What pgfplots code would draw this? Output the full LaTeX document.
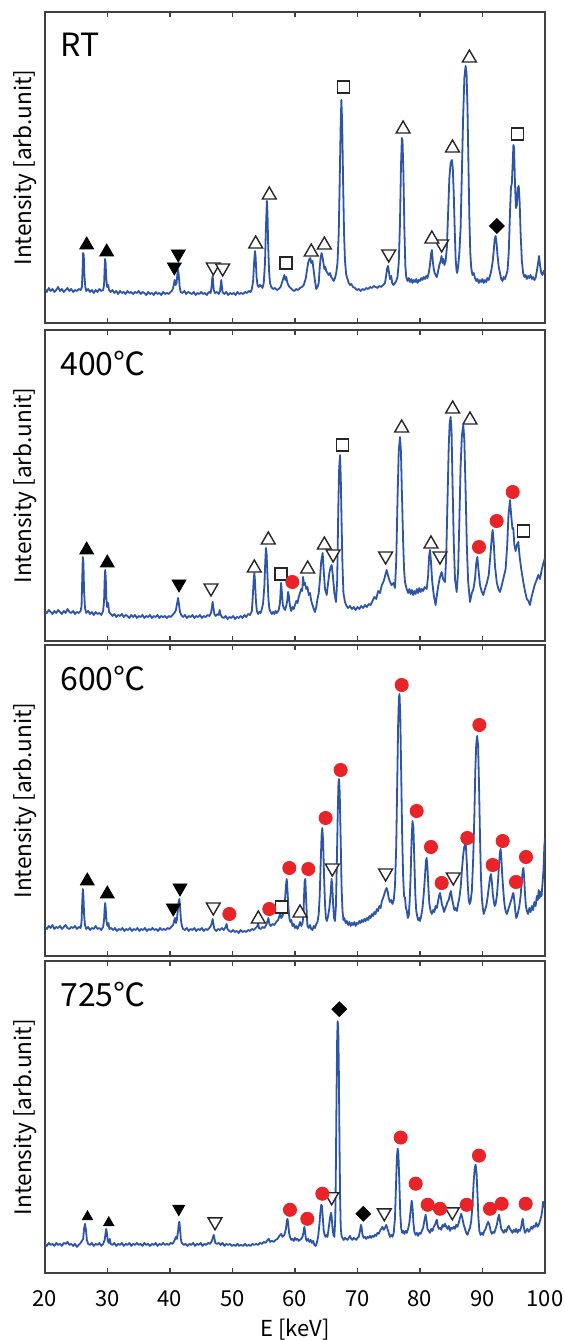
\documentclass[border=0pt]{standalone}
\usepackage{fontspec}
\setmainfont{Noto Sans CJK JP}
\usepackage{pgfplots}
\pgfplotsset{compat=1.18}

\definecolor{specblue}{RGB}{44,84,168}
\definecolor{dotred}{RGB}{232,36,40}

% one panel = 500 x 311 px of the reference, 1 px = 0.5bp
\pgfplotsset{
  panel/.style={
    scale only axis, width=250bp, height=155.5bp,
    xmin=20, xmax=100, ymin=0, ymax=311,
    xtick={20,30,...,100}, ytick=\empty,
    xticklabels={},
    tick align=inside, major tick length=2.5bp, xtick pos=both,
    axis line style={black!75, line width=0.9bp},
    every tick/.style={black!75, line width=0.6bp},
    ylabel={Intensity [arb.unit]},
    ylabel style={at={(axis description cs:-0.04,0.5)}, anchor=center,
                  font=\fontsize{11.3bp}{13bp}\selectfont},
  },
  spec/.style={specblue, line width=0.9bp, mark=none, line join=round},
  fup/.style={only marks, mark=triangle*, mark size=#1,
              mark options={fill=black, draw=black}},
  fup/.default=4bp,
  fdn/.style={only marks, mark=triangle*, mark size=#1,
              mark options={fill=black, draw=black, rotate=180}},
  fdn/.default=4bp,
  oup/.style={only marks, mark=triangle*, mark size=4bp,
              mark options={fill=white, draw=black!85, line width=0.7bp}},
  odn/.style={only marks, mark=triangle*, mark size=4bp,
              mark options={fill=white, draw=black!85, line width=0.7bp, rotate=180}},
  osq/.style={only marks, mark=square*, mark size=3bp,
              mark options={fill=white, draw=black!85, line width=0.7bp}},
  fdi/.style={only marks, mark=square*, mark size=2.6bp,
              mark options={fill=black, draw=black, rotate=45}},
  rdot/.style={only marks, mark=*, mark size=3.3bp,
               mark options={fill=dotred, draw=dotred}},
}
\tikzset{paneltitle/.style={anchor=north west, inner sep=0pt,
                font=\fontsize{16bp}{18bp}\selectfont}}

\begin{document}
\begin{tikzpicture}
\useasboundingbox (0,0) rectangle (282.5bp,670bp);

% ---------------- RT ----------------
\begin{axis}[panel, at={(22.5bp,508.5bp)}, anchor=south west]
\addplot[spec] coordinates {
(20.0,34)(20.3,31)(20.6,35)(20.9,32)(21.2,34)(21.5,31)(21.8,33)(22.1,36)(22.4,32)(22.7,34)
(23.0,31)(23.3,33)(23.6,35)(23.9,32)(24.2,34)(24.5,31)(24.8,33)(25.1,32)(25.4,34)(25.7,33)
(25.9,36)(26.0,50)(26.1,70)(26.2,68)(26.3,48)(26.45,36)(26.6,32)
(26.9,34)(27.2,31)(27.5,33)(27.8,30)(28.1,33)(28.4,31)(28.7,34)(29.0,32)(29.3,33)
(29.45,38)(29.55,56)(29.62,64)(29.7,60)(29.8,44)(29.95,36)(30.1,38)(30.25,33)
(30.5,31)(30.8,33)(31.1,30)(31.4,32)(31.7,29)(32.0,32)(32.3,30)(32.6,31)(32.9,29)(33.2,32)
(33.5,30)(33.8,31)(34.1,29)(34.4,31)(34.7,30)(35.0,32)(35.3,29)(35.6,31)(35.9,30)(36.2,28)
(36.5,31)(36.8,29)(37.1,30)(37.4,28)(37.7,31)(38.0,29)(38.3,30)(38.6,28)(38.9,31)(39.2,29)
(39.5,30)(39.8,29)(40.1,31)(40.4,33)
(40.6,38)(40.75,43)(40.9,38)(41.05,40)(41.2,50)(41.3,53)(41.4,48)(41.55,36)(41.7,31)
(42.0,30)(42.3,32)(42.6,29)(42.9,31)(43.2,30)(43.5,29)(43.8,31)(44.1,28)(44.4,30)(44.7,29)
(45.0,31)(45.3,29)(45.6,30)(45.9,28)(46.2,31)(46.5,30)
(46.65,36)(46.75,44)(46.82,47)(46.9,42)(47.0,33)(47.2,30)(47.5,31)(47.8,29)(48.0,32)
(48.12,38)(48.2,43)(48.28,38)(48.4,31)(48.7,29)(49.0,31)(49.3,28)(49.6,30)(49.9,29)(50.2,30)
(50.5,28)(50.8,31)(51.1,29)(51.4,30)(51.7,29)(52.0,31)(52.3,30)(52.6,32)(52.9,31)(53.1,34)
(53.3,42)(53.45,60)(53.6,72)(53.7,66)(53.85,46)(54.0,38)(54.2,36)(54.4,38)(54.6,37)(54.8,35)
(55.0,40)(55.2,60)(55.35,95)(55.5,122)(55.6,110)(55.7,80)(55.85,52)(56.0,40)(56.2,36)
(56.5,34)(56.8,35)(57.1,33)(57.4,34)(57.7,36)
(57.9,40)(58.1,44)(58.3,48)(58.45,43)(58.6,46)(58.8,40)(59.0,37)(59.3,35)(59.6,33)(59.9,32)
(60.2,34)(60.5,33)(60.8,35)(61.1,36)(61.4,38)
(61.7,44)(61.9,52)(62.1,60)(62.3,64)(62.45,65)(62.6,60)(62.8,62)(63.0,52)(63.2,42)(63.4,34)
(63.6,36)(63.8,40)
(63.95,55)(64.1,65)(64.25,70)(64.4,66)(64.55,60)(64.7,54)(64.85,56)(65.0,52)(65.2,50)
(65.4,48)(65.6,50)(65.8,46)(66.0,44)(66.2,42)(66.4,45)(66.6,50)(66.8,60)
(67.0,90)(67.15,140)(67.3,195)(67.42,223)(67.55,200)(67.7,140)(67.85,90)(68.0,62)(68.2,48)
(68.4,44)(68.6,40)(68.8,38)(69.0,39)(69.3,36)(69.6,35)(69.9,33)(70.2,34)(70.5,32)(70.8,34)
(71.1,33)(71.4,35)(71.7,34)(72.0,36)(72.3,35)(72.6,37)(72.9,36)(73.2,35)(73.5,37)(73.8,36)
(74.1,38)(74.4,40)
(74.6,48)(74.75,55)(74.9,57)(75.05,50)(75.2,44)(75.4,47)(75.55,40)(75.75,38)(76.0,40)
(76.2,42)(76.4,46)
(76.6,60)(76.8,100)(76.95,155)(77.1,185)(77.2,183)(77.35,150)(77.5,95)(77.65,58)(77.8,46)
(78.0,42)(78.2,45)(78.4,41)(78.6,44)(78.8,40)(79.0,43)(79.2,41)(79.4,44)(79.6,40)(79.8,43)
(80.0,42)(80.2,45)(80.4,43)(80.6,46)(80.8,44)(81.0,47)(81.2,45)(81.4,50)(81.6,58)
(81.75,68)(81.9,73)(82.05,62)(82.2,54)(82.35,50)(82.5,48)(82.7,46)(82.9,52)(83.1,58)
(83.3,62)(83.45,67)(83.6,60)(83.75,64)(83.9,58)(84.1,62)(84.3,75)(84.5,110)(84.7,145)
(84.9,160)(85.1,163)(85.25,155)(85.4,130)(85.55,95)(85.7,65)(85.85,52)(85.95,50)(86.1,56)
(86.3,70)(86.5,95)(86.7,150)(86.9,205)(87.1,245)(87.3,257)(87.45,250)(87.6,215)(87.75,160)
(87.9,105)(88.05,70)(88.2,55)(88.4,48)(88.6,50)(88.8,45)(89.0,42)(89.2,44)(89.4,40)(89.6,43)
(89.8,41)(90.0,44)(90.2,40)(90.4,43)(90.6,41)(90.8,45)(91.0,43)(91.2,47)(91.4,52)
(91.6,60)(91.8,72)(91.95,84)(92.1,87)(92.25,80)(92.4,68)(92.6,56)(92.8,50)(93.0,44)(93.2,42)
(93.4,46)(93.6,44)(93.8,48)(94.0,52)(94.2,70)
(94.4,110)(94.55,135)(94.7,140)(94.8,155)(94.95,178)(95.05,175)(95.2,140)(95.35,115)
(95.5,118)(95.65,135)(95.8,137)(95.95,120)(96.1,90)(96.3,62)(96.5,50)(96.7,46)(96.9,48)
(97.1,44)(97.3,47)(97.5,45)(97.7,48)(97.9,44)(98.1,46)(98.3,43)(98.5,45)(98.7,52)(98.9,60)
(99.05,67)(99.2,58)(99.4,50)(99.6,48)(99.8,52)(100,50)
};
\addplot[fup] coordinates {(26.67,78)(29.87,71)};
\addplot[fdn] coordinates {(41.33,69)(40.69,56)};
\addplot[odn] coordinates {(46.93,56)(48.43,55)(75.0,69)(83.47,79)};
\addplot[oup] coordinates {(53.71,79)(55.89,128)(62.6,71)(64.7,78)(77.3,194)(81.9,84)(85.2,175)(87.9,265)};
\addplot[osq] coordinates {(58.56,60)(67.8,236)(95.6,189)};
\addplot[fdi] coordinates {(92.3,97)};
\node[paneltitle] at (rel axis cs:0.03,0.933) {RT};
\end{axis}

% ---------------- 400 C ----------------
\begin{axis}[panel, at={(22.5bp,349.5bp)}, anchor=south west]
\addplot[spec] coordinates {
(20.0,30)(20.3,28)(20.6,31)(20.9,29)(21.2,27)(21.5,30)(21.8,28)(22.1,31)(22.4,29)(22.7,27)
(23.0,30)(23.3,28)(23.6,32)(23.9,29)(24.2,28)(24.5,30)(24.8,27)(25.1,29)(25.4,28)(25.7,30)
(25.85,35)(25.95,60)(26.05,84)(26.15,78)(26.25,50)(26.4,33)(26.6,28)(26.9,30)(27.2,27)
(27.5,29)(27.8,26)(28.1,29)(28.4,27)(28.7,28)(29.0,26)(29.3,30)
(29.45,40)(29.55,62)(29.63,71)(29.72,64)(29.82,42)(29.95,34)(30.1,38)(30.25,29)(30.5,27)
(30.8,25)(31.1,27)(31.4,24)(31.7,26)(32.0,25)(32.3,27)(32.6,24)(32.9,26)(33.2,25)(33.5,23)
(33.8,26)(34.1,24)(34.4,26)(34.7,23)(35.0,25)(35.3,24)(35.6,26)(35.9,23)(36.2,25)(36.5,24)
(36.8,26)(37.1,23)(37.4,25)(37.7,24)(38.0,26)(38.3,23)(38.6,25)(38.9,24)(39.2,25)(39.5,23)
(39.8,25)(40.1,24)(40.4,26)(40.7,28)
(40.95,31)(41.15,38)(41.3,43)(41.45,36)(41.6,29)(41.8,26)(42.1,24)(42.4,26)(42.7,23)(43.0,25)
(43.3,24)(43.6,26)(43.9,23)(44.2,25)(44.5,24)(44.8,26)(45.1,23)(45.4,25)(45.7,24)(46.0,26)
(46.3,25)(46.55,28)
(46.7,33)(46.82,39)(46.95,33)(47.1,27)(47.3,25)(47.6,27)(47.8,26)(47.95,31)(48.05,27)
(48.3,24)(48.6,23)(48.9,25)(49.2,22)(49.5,24)(49.8,23)(50.1,25)(50.4,22)(50.7,24)(51.0,23)
(51.3,25)(51.6,23)(51.9,26)(52.2,24)(52.5,27)(52.8,26)(53.1,30)
(53.25,45)(53.4,62)(53.5,68)(53.6,60)(53.75,40)(53.9,30)(54.1,27)(54.3,29)(54.5,28)(54.7,32)
(54.9,38)(55.1,55)(55.25,80)(55.35,93)(55.45,88)(55.6,65)(55.75,42)(55.9,32)(56.1,29)
(56.3,27)(56.5,29)(56.7,27)(56.9,30)(57.1,28)(57.4,31)(57.6,38)
(57.7,50)(57.78,58)(57.88,50)(58.05,36)(58.2,33)(58.4,31)(58.6,35)(58.75,40)
(58.9,49)(59.0,46)(59.1,40)(59.25,33)(59.4,30)(59.6,34)(59.8,32)(60.0,36)(60.2,40)(60.4,38)
(60.6,44)(60.8,48)(61.0,52)(61.15,50)(61.3,64)(61.45,56)(61.6,58)(61.8,52)(62.0,54)
(62.2,46)(62.4,48)(62.6,40)(62.8,36)(63.0,32)(63.2,29)(63.4,34)(63.6,42)(63.8,48)
(64.0,62)(64.2,80)(64.43,88)(64.6,70)(64.8,52)(65.07,46)(65.3,58)(65.5,68)(65.7,74)
(65.87,76)(66.05,66)(66.3,48)(66.56,39)(66.75,60)(66.93,133)(67.05,170)(67.2,186)
(67.32,165)(67.45,120)(67.6,75)(67.75,48)(68.0,39)(68.25,35)(68.5,33)(68.8,35)(69.1,32)
(69.4,34)(69.7,31)(70.0,34)(70.3,32)(70.6,35)(70.9,33)(71.2,36)(71.5,34)(71.8,37)(72.1,36)
(72.4,40)(72.7,44)(73.0,42)(73.3,50)(73.6,48)(73.9,56)(74.2,60)(74.45,66)(74.67,71)(74.9,65)
(75.15,60)(75.45,56)(75.75,58)(76.0,53)(76.2,80)(76.4,140)(76.6,190)(76.8,204)(76.95,190)
(77.1,150)(77.3,100)(77.45,72)(77.6,59)(77.87,52)(78.1,48)(78.3,52)(78.5,47)(78.7,51)
(78.9,46)(79.1,50)(79.3,47)(79.5,52)(79.7,48)(79.9,53)(80.1,49)(80.3,52)(80.5,50)(80.75,54)
(81.07,52)(81.3,65)(81.45,84)(81.6,91)(81.75,80)(81.95,60)(82.2,46)(82.5,36)(82.75,48)
(82.95,56)(83.2,64)(83.47,69)(83.7,62)(84.0,59)(84.2,85)(84.4,140)(84.6,195)(84.75,218)
(84.9,224)(85.05,210)(85.2,160)(85.4,100)(85.6,62)(85.87,49)(86.1,70)(86.3,120)(86.5,175)
(86.7,205)(86.93,216)(87.1,200)(87.3,150)(87.5,95)(87.7,60)(88.0,39)(88.3,48)(88.55,52)
(88.8,62)(89.0,78)(89.17,84)(89.35,72)(89.6,56)(89.85,50)(90.13,46)(90.4,52)(90.7,58)
(91.0,66)(91.3,88)(91.5,105)(91.63,111)(91.8,98)(92.0,75)(92.3,58)(92.55,52)(92.8,49)
(93.1,56)(93.4,64)(93.7,72)(93.95,95)(94.15,125)(94.4,141)(94.6,125)(94.8,112)(94.93,113)
(95.1,96)(95.3,90)(95.5,96)(95.73,99)(95.95,84)(96.2,72)(96.53,59)(96.8,50)(97.1,42)
(97.35,40)(97.6,36)(97.85,44)(98.1,50)(98.35,56)(98.6,60)(98.93,66)(99.2,62)(99.5,72)
(99.75,78)(100,83)
};
\addplot[fup] coordinates {(26.67,91)(29.97,78)};
\addplot[fdn] coordinates {(41.44,57)};
\addplot[odn] coordinates {(46.56,53)(66.1,87)(74.5,85)(83.2,85)};
\addplot[oup] coordinates {(53.49,73)(55.73,101)(62.03,72)(64.7,96)(77.07,213)(81.76,97)(85.23,232)(88.0,221)};
\addplot[osq] coordinates {(57.76,67)(67.6,196)(96.53,110)};
\addplot[rdot] coordinates {(59.57,59)(89.44,94)(92.27,120)(94.83,149)};
\node[paneltitle] at (rel axis cs:0.03,0.933) {400℃};
\end{axis}

% ---------------- 600 C ----------------
\begin{axis}[panel, at={(22.5bp,192bp)}, anchor=south west]
\addplot[spec] coordinates {
(20.0,29)(20.3,27)(20.6,30)(20.9,28)(21.2,31)(21.5,27)(21.8,29)(22.1,28)(22.4,30)(22.7,27)
(23.0,29)(23.3,31)(23.6,28)(23.9,27)(24.2,29)(24.5,28)(24.8,30)(25.1,27)(25.4,29)(25.7,28)
(25.85,34)(25.95,52)(26.05,67)(26.15,60)(26.25,42)(26.4,31)(26.6,27)(26.9,29)(27.2,26)
(27.5,28)(27.8,27)(28.1,30)(28.4,27)(28.7,28)(29.0,26)(29.3,29)
(29.45,36)(29.55,48)(29.63,53)(29.72,47)(29.85,34)(30.0,30)(30.15,33)(30.3,27)(30.6,28)
(30.9,26)(31.2,28)(31.5,25)(31.8,27)(32.1,26)(32.4,28)(32.7,25)(33.0,27)(33.3,26)(33.6,28)
(33.9,25)(34.2,27)(34.5,26)(34.8,28)(35.1,25)(35.4,27)(35.7,26)(36.0,28)(36.3,25)(36.6,27)
(36.9,26)(37.2,28)(37.5,26)(37.8,27)(38.1,25)(38.4,28)(38.7,26)(39.0,27)(39.3,26)(39.6,28)
(39.9,27)(40.2,29)(40.5,31)
(40.65,35)(40.8,38)(40.95,33)(41.1,36)(41.25,46)(41.4,55)(41.5,57)(41.6,50)(41.75,36)
(41.9,30)(42.1,27)(42.4,26)(42.7,28)(43.0,25)(43.3,27)(43.6,26)(43.9,28)(44.2,25)(44.5,27)
(44.8,26)(45.1,28)(45.4,25)(45.7,27)(46.0,26)(46.3,28)(46.55,30)
(46.7,33)(46.82,37)(46.95,32)(47.1,27)(47.4,25)(47.7,27)(48.0,26)(48.3,28)(48.6,26)(48.9,29)
(49.05,32)(49.2,27)(49.5,25)(49.8,24)(50.1,26)(50.4,24)(50.7,25)(51.0,23)(51.3,26)(51.6,24)
(51.9,25)(52.2,24)(52.5,26)(52.8,25)(53.1,27)(53.4,26)(53.7,28)(54.0,30)(54.1,33)(54.25,28)
(54.5,27)(54.8,29)(55.1,28)(55.4,31)(55.65,36)(55.75,38)(55.9,32)(56.1,30)(56.4,32)(56.7,31)
(57.0,34)(57.3,36)(57.5,40)(57.65,42)(57.8,38)(58.0,40)(58.2,44)
(58.4,56)(58.55,70)(58.68,77)(58.8,66)(58.95,48)(59.1,38)(59.25,34)(59.4,36)(59.6,30)
(59.8,32)(60.0,28)(60.2,30)(60.4,27)(60.6,30)(60.8,34)(61.0,30)(61.2,33)(61.35,40)
(61.45,60)(61.55,75)(61.65,77)(61.75,62)(61.9,40)(62.0,30)(62.2,28)(62.4,31)(62.6,27)
(62.8,26)(63.0,30)(63.2,28)(63.4,32)(63.6,34)(63.8,42)
(63.95,60)(64.1,90)(64.25,120)(64.37,128)(64.5,115)(64.65,80)(64.8,52)(64.95,38)(65.1,35)
(65.3,40)(65.5,48)(65.7,62)(65.85,77)(65.95,72)(66.1,52)(66.25,38)(66.4,35)(66.55,50)
(66.7,95)(66.85,145)(66.95,172)(67.04,177)(67.15,165)(67.3,120)(67.45,70)(67.6,45)
(67.75,36)(67.9,38)(68.1,33)(68.3,35)(68.5,31)(68.7,34)(68.9,30)(69.1,33)(69.3,31)(69.5,34)
(69.7,30)(69.9,33)(70.1,32)(70.3,35)(70.5,33)(70.7,36)(70.9,34)(71.1,37)(71.3,35)(71.5,38)
(71.7,36)(71.9,40)(72.1,38)(72.3,42)(72.5,40)(72.7,44)(72.9,42)(73.1,47)(73.3,45)(73.5,50)
(73.7,48)(73.9,55)(74.1,58)(74.3,62)(74.5,66)(74.67,68)(74.85,64)(75.0,58)(75.2,54)
(75.4,56)(75.6,52)(75.8,56)(76.0,70)
(76.2,110)(76.35,170)(76.5,230)(76.62,258)(76.72,262)(76.85,240)(77.0,180)(77.15,120)
(77.3,80)(77.45,60)(77.6,58)(77.75,48)(77.9,45)(78.05,38)(78.2,40)(78.35,55)
(78.5,80)(78.65,115)(78.8,135)(78.95,128)(79.1,95)(79.25,62)(79.4,45)(79.55,40)(79.7,36)
(79.85,38)(80.0,35)(80.2,40)(80.4,48)
(80.6,62)(80.8,80)(80.95,95)(81.07,98)(81.2,88)(81.35,68)(81.5,52)(81.7,45)(81.9,42)
(82.1,46)(82.3,44)(82.5,50)(82.7,48)(82.9,55)(83.05,60)(83.2,63)(83.35,58)(83.5,52)
(83.7,48)(83.85,44)(84.0,47)(84.2,50)(84.4,54)(84.6,56)(84.8,62)(84.96,65)(85.1,58)
(85.3,52)(85.5,46)(85.7,48)(85.9,45)(86.1,52)(86.3,58)(86.5,68)
(86.7,85)(86.9,100)(87.05,108)(87.2,112)(87.35,110)(87.5,92)(87.65,70)(87.8,56)(87.95,52)
(88.1,55)(88.3,65)
(88.5,95)(88.7,140)(88.85,185)(89.0,212)(89.15,220)(89.3,210)(89.45,170)(89.6,120)
(89.75,80)(89.9,58)(90.05,48)(90.2,42)(90.4,46)(90.6,50)(90.8,58)
(91.0,68)(91.2,78)(91.36,82)(91.5,74)(91.65,62)(91.8,55)(91.95,50)(92.1,52)(92.3,60)
(92.5,76)(92.65,92)(92.8,104)(92.9,107)(93.0,100)(93.15,82)(93.3,68)(93.45,56)(93.6,48)
(93.75,44)(93.9,42)(94.1,46)(94.3,50)(94.5,54)
(94.7,58)(94.85,62)(94.95,63)(95.1,55)(95.25,45)(95.4,38)(95.55,40)(95.7,44)(95.9,50)
(96.1,60)(96.3,76)(96.45,86)(96.55,88)(96.65,80)(96.8,62)(96.95,50)(97.1,45)(97.3,42)
(97.5,48)(97.7,44)(97.9,50)(98.1,46)(98.3,54)(98.5,50)(98.7,60)(98.85,56)(99.0,66)
(99.15,58)(99.3,64)(99.45,60)(99.6,72)(99.75,85)(99.9,110)(100,118)
};
\addplot[fup] coordinates {(26.77,75)(29.97,62)};
\addplot[fdn] coordinates {(41.6,68)(40.53,48)};
\addplot[odn] coordinates {(46.93,49)(65.97,88)(74.5,83)(85.33,79)};
\addplot[oup] coordinates {(54.13,37)(60.8,43)};
\addplot[osq] coordinates {(57.87,49)};
\addplot[rdot] coordinates {(49.5,42)(55.89,47)(59.09,88)(62.13,87)(64.9,138)(67.3,186)
  (77.07,271)(79.47,145)(81.76,109)(83.47,73)(87.57,118)(89.5,231)(91.63,91)(93.23,115)
  (95.36,74)(96.96,99)};
\node[paneltitle] at (rel axis cs:0.03,0.933) {600℃};
\end{axis}

% ---------------- 725 C ----------------
\begin{axis}[panel, at={(22.5bp,33.5bp)}, anchor=south west, height=156bp,
  xticklabels={20,30,40,50,60,70,80,90,100},
  xticklabel style={anchor=center, yshift=-13bp, font=\fontsize{11bp}{13bp}\selectfont},
  xlabel={E [keV]},
  xlabel style={at={(axis description cs:0.5,0)}, anchor=center, yshift=-28.5bp,
                font=\fontsize{11bp}{13bp}\selectfont}]
\addplot[spec] coordinates {
(20.0,29)(20.3,27)(20.6,30)(20.9,28)(21.2,29)(21.5,27)(21.8,30)(22.1,28)(22.4,29)(22.7,27)
(23.0,30)(23.3,29)(23.6,31)(23.9,28)(24.2,29)(24.5,27)(24.8,29)(25.1,26)(25.4,28)(25.7,30)
(26.1,34)(26.25,44)(26.4,49)(26.55,43)(26.7,33)(26.9,29)(27.2,28)(27.5,30)(27.8,27)(28.1,29)
(28.4,28)(28.7,30)(29.0,27)(29.3,29)(29.55,33)
(29.7,40)(29.8,44)(29.9,40)(30.05,32)(30.2,30)(30.35,34)(30.5,29)(30.8,28)(31.1,30)(31.4,27)
(31.7,29)(32.0,28)(32.3,30)(32.6,27)(32.9,29)(33.2,28)(33.5,30)(33.8,27)(34.1,29)(34.4,28)
(34.7,30)(35.0,28)(35.3,29)(35.6,27)(35.9,30)(36.2,28)(36.5,29)(36.8,27)(37.1,29)(37.4,28)
(37.7,30)(38.0,27)(38.3,29)(38.6,28)(38.9,30)(39.2,28)(39.5,29)(39.8,28)(40.1,30)(40.4,29)
(40.7,32)(40.95,36)(41.1,34)(41.3,42)
(41.42,50)(41.5,51)(41.6,44)(41.75,33)(41.9,30)(42.2,28)(42.5,29)(42.8,27)(43.1,29)(43.4,28)
(43.7,30)(44.0,27)(44.3,29)(44.6,28)(44.9,30)(45.2,27)(45.5,29)(45.8,28)(46.1,30)(46.4,29)
(46.7,32)(46.9,36)(47.0,38)(47.1,35)(47.25,30)(47.5,29)(47.8,30)(48.1,28)(48.4,30)(48.7,27)
(49.0,29)(49.3,28)(49.6,29)(49.9,27)(50.2,28)(50.5,27)(50.8,29)(51.1,27)(51.4,28)(51.7,27)
(52.0,29)(52.3,27)(52.6,28)(52.9,27)(53.2,29)(53.5,28)(53.8,29)(54.1,28)(54.4,30)(54.7,29)
(55.0,31)(55.3,30)(55.6,33)(55.8,34)(56.0,31)(56.3,32)(56.6,31)(56.9,33)(57.2,34)(57.5,37)
(57.8,39)(58.0,36)(58.3,38)
(58.55,44)(58.7,52)(58.8,54)(58.9,50)(59.05,40)(59.2,36)(59.4,33)(59.6,34)(59.8,32)(60.0,35)
(60.2,33)(60.4,34)(60.6,32)(60.8,33)(61.0,34)(61.2,36)
(61.35,40)(61.5,46)(61.6,42)(61.75,34)(61.9,32)(62.1,34)(62.3,31)(62.5,33)(62.7,30)(62.9,32)
(63.1,28)(63.3,27)(63.5,30)(63.7,36)
(63.9,48)(64.05,60)(64.2,68)(64.3,67)(64.45,55)(64.6,42)(64.75,38)(64.9,36)(65.05,38)
(65.2,36)(65.4,45)(65.6,55)(65.75,60)(65.85,57)(66.0,45)(66.15,38)(66.3,36)(66.45,55)
(66.55,110)(66.65,180)(66.75,235)(66.83,251)(66.92,245)(67.02,200)(67.12,130)(67.22,75)
(67.32,45)(67.45,37)(67.6,35)(67.8,33)(68.0,35)(68.2,34)(68.4,33)(68.6,35)(68.8,37)(69.0,34)
(69.2,33)(69.4,35)(69.6,34)(69.8,33)(70.0,35)(70.2,36)(70.4,42)
(70.55,48)(70.65,46)(70.8,38)(71.0,35)(71.2,36)(71.4,34)(71.6,36)(71.8,35)(72.0,37)(72.2,35)
(72.4,37)(72.6,36)(72.8,38)(73.0,37)(73.2,40)(73.4,39)(73.6,42)(73.8,44)(74.0,46)(74.2,43)
(74.4,45)(74.6,48)(74.8,44)(75.0,40)(75.2,36)(75.4,38)(75.6,36)(75.8,40)(76.0,55)
(76.15,85)(76.3,115)(76.43,124)(76.55,118)(76.7,90)(76.85,58)(77.0,44)(77.15,40)(77.3,42)
(77.5,39)(77.7,42)(77.9,40)(78.1,44)(78.3,50)
(78.5,62)(78.67,72)(78.8,66)(78.95,50)(79.1,41)(79.3,38)(79.5,40)(79.7,37)(79.9,40)(80.1,39)
(80.3,42)(80.5,45)
(80.7,52)(80.9,58)(81.05,52)(81.2,44)(81.4,42)(81.6,40)(81.8,44)(82.0,42)(82.2,46)(82.4,48)
(82.6,52)(82.7,53)(82.85,47)(83.0,44)(83.2,45)(83.4,43)(83.6,48)(83.8,46)(84.0,49)(84.2,46)
(84.4,44)(84.6,47)(84.8,42)(85.0,45)(85.2,44)(85.4,46)(85.6,44)(85.8,48)(86.0,46)(86.2,50)
(86.4,55)(86.6,59)(86.8,54)(87.0,48)(87.2,44)(87.4,40)(87.6,38)(87.8,42)(88.0,45)(88.2,52)
(88.4,68)(88.6,92)(88.75,104)(88.9,108)(89.05,100)(89.2,78)(89.35,55)(89.5,42)(89.7,38)
(89.9,40)(90.1,38)(90.3,42)(90.5,44)(90.7,48)
(90.9,51)(91.1,48)(91.3,42)(91.5,39)(91.7,41)(91.9,40)(92.1,44)(92.3,48)(92.5,55)
(92.65,58)(92.8,52)(93.0,44)(93.2,42)(93.4,40)(93.6,43)(93.8,41)(94.0,45)(94.2,47)(94.4,44)
(94.6,42)(94.8,40)(95.0,43)(95.2,41)(95.4,44)(95.6,40)(95.8,43)(96.0,42)(96.2,46)
(96.35,52)(96.45,54)(96.6,46)(96.8,40)(97.0,42)(97.2,44)(97.4,41)(97.6,43)(97.8,46)(98.0,44)
(98.2,47)(98.4,46)(98.6,50)(98.8,46)(99.0,48)(99.2,52)(99.4,56)(99.55,62)(99.7,71)
(99.85,66)(100,68)
};
\addplot[fup=3bp] coordinates {(26.8,56)(30.2,50)};
\addplot[fdn=3.4bp] coordinates {(41.4,64)};
\addplot[odn] coordinates {(47.2,51)(65.87,76)(74.29,60)(85.17,61)};
\addplot[fdi] coordinates {(67.09,263)(70.93,59)};
\addplot[rdot] coordinates {(59.2,63)(61.97,54)(64.37,79)(76.91,135)(79.31,89)(81.23,68)
  (83.2,64)(87.47,68)(89.44,117)(91.2,64)(93.07,69)(96.91,69)};
\node[paneltitle] at (rel axis cs:0.03,0.933) {725℃};
\end{axis}
\end{tikzpicture}
\end{document}
